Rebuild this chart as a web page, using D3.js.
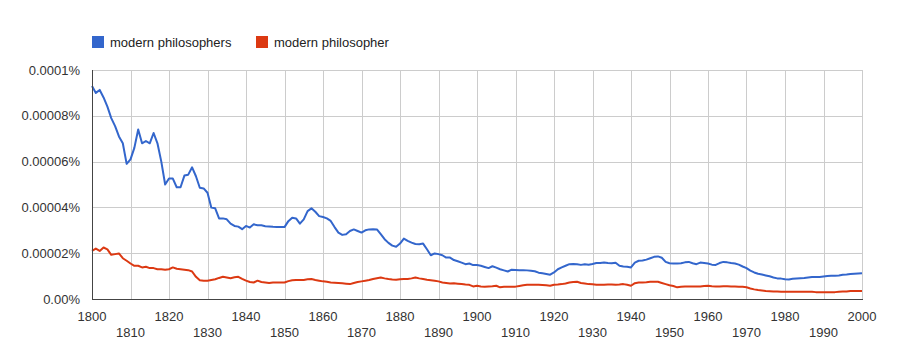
<!DOCTYPE html>
<html><head><meta charset="utf-8">
<script src="https://cdn.jsdelivr.net/npm/d3@7/dist/d3.min.js"></script>
<style>
html,body{margin:0;padding:0;background:#fff;}
svg{display:block;font-family:"Liberation Sans",Arial,sans-serif;}
</style></head>
<body><svg id="chart" width="900" height="360"></svg>
<script>
// values in units of 0.00001 %
const UNIT = 1e-5;
const startYear = 1800;
const seriesNames = ["modern philosophers", "modern philosopher"];
const seriesColors = ["#3366cc", "#dc3912"];
const yTicks = [0, 0.00002, 0.00004, 0.00006, 0.00008, 0.0001];
const yTickLabels = ["0.00%", "0.00002%", "0.00004%", "0.00006%", "0.00008%", "0.0001%"];
const xTicks = [1800,1810,1820,1830,1840,1850,1860,1870,1880,1890,1900,1910,1920,1930,1940,1950,1960,1970,1980,1990,2000];

const philosophers = [
 9.3,9.0,9.13,8.8,8.4,7.9,7.55,7.1,6.8,5.9,
 6.1,6.6,7.4,6.8,6.9,6.8,7.25,6.8,6.0,5.0,
 5.26,5.26,4.88,4.88,5.39,5.43,5.75,5.36,4.86,4.83,
 4.64,3.99,3.96,3.52,3.52,3.48,3.29,3.19,3.16,3.05,
 3.19,3.12,3.26,3.22,3.22,3.18,3.17,3.15,3.14,3.14,
 3.14,3.4,3.55,3.52,3.29,3.48,3.84,3.96,3.81,3.62,
 3.58,3.52,3.41,3.14,2.90,2.80,2.83,2.97,3.04,2.97,
 2.90,3.00,3.04,3.05,3.04,2.83,2.61,2.45,2.33,2.28,
 2.42,2.64,2.54,2.46,2.40,2.39,2.42,2.17,1.91,1.99,
 1.96,1.91,1.81,1.81,1.70,1.65,1.59,1.52,1.55,1.48,
 1.48,1.45,1.40,1.35,1.43,1.37,1.30,1.25,1.20,1.28,
 1.27,1.26,1.26,1.25,1.23,1.21,1.15,1.12,1.09,1.06,
 1.16,1.30,1.38,1.45,1.52,1.53,1.52,1.49,1.52,1.50,
 1.53,1.57,1.57,1.59,1.57,1.56,1.58,1.45,1.42,1.41,
 1.38,1.59,1.67,1.68,1.72,1.78,1.84,1.86,1.80,1.62,
 1.56,1.55,1.55,1.56,1.60,1.62,1.56,1.52,1.59,1.57,
 1.55,1.50,1.49,1.57,1.62,1.60,1.57,1.55,1.50,1.42,
 1.35,1.24,1.16,1.10,1.07,1.03,0.99,0.94,0.90,0.89,
 0.86,0.85,0.88,0.90,0.91,0.92,0.94,0.96,0.96,0.96,
 0.98,1.00,1.01,1.02,1.03,1.06,1.07,1.09,1.10,1.11,
 1.12
];
const philosopher = [
 2.10,2.20,2.10,2.25,2.17,1.93,1.96,1.99,1.78,1.67,
 1.55,1.45,1.45,1.38,1.41,1.35,1.35,1.30,1.30,1.28,
 1.30,1.38,1.32,1.30,1.28,1.26,1.20,0.97,0.82,0.80,
 0.80,0.83,0.86,0.92,0.97,0.94,0.91,0.95,0.97,0.88,
 0.80,0.74,0.72,0.80,0.74,0.72,0.70,0.72,0.72,0.72,
 0.72,0.78,0.82,0.83,0.83,0.83,0.86,0.87,0.83,0.80,
 0.77,0.75,0.72,0.71,0.70,0.69,0.67,0.65,0.70,0.74,
 0.77,0.80,0.83,0.87,0.91,0.94,0.90,0.87,0.85,0.84,
 0.86,0.87,0.87,0.90,0.94,0.90,0.87,0.84,0.82,0.80,
 0.77,0.72,0.70,0.68,0.69,0.67,0.65,0.63,0.62,0.55,
 0.58,0.55,0.54,0.55,0.56,0.58,0.51,0.53,0.54,0.54,
 0.54,0.57,0.60,0.62,0.62,0.62,0.62,0.61,0.60,0.58,
 0.62,0.63,0.65,0.68,0.72,0.74,0.75,0.70,0.68,0.65,
 0.64,0.62,0.62,0.62,0.63,0.63,0.62,0.63,0.65,0.62,
 0.58,0.69,0.72,0.72,0.73,0.75,0.75,0.75,0.70,0.65,
 0.60,0.57,0.51,0.53,0.55,0.55,0.55,0.55,0.55,0.57,
 0.58,0.56,0.55,0.55,0.56,0.56,0.55,0.55,0.54,0.53,
 0.51,0.46,0.42,0.39,0.37,0.35,0.34,0.33,0.33,0.32,
 0.32,0.32,0.32,0.32,0.32,0.32,0.32,0.32,0.30,0.30,
 0.30,0.30,0.30,0.30,0.32,0.33,0.33,0.35,0.35,0.35,
 0.35
];

const seriesValues = [philosophers, philosopher];

const svg = d3.select("#chart");
const pLeft = 92, pRight = 862, pTop = 70, pBottom = 299;

const x = d3.scaleLinear().domain([1800, 2000]).range([pLeft, pRight]);
const y = d3.scaleLinear().domain([0, 0.0001]).range([pBottom, pTop]);

// grid
const g = svg.append("g");
g.selectAll("line.h").data(yTicks.slice(1)).enter().append("line")
  .attr("x1", pLeft).attr("x2", pRight)
  .attr("y1", d => Math.round(y(d)) + 0.5).attr("y2", d => Math.round(y(d)) + 0.5)
  .attr("stroke", "#cccccc").attr("stroke-width", 1);
g.selectAll("line.v").data(xTicks.slice(1)).enter().append("line")
  .attr("x1", d => Math.round(x(d)) + 0.5).attr("x2", d => Math.round(x(d)) + 0.5)
  .attr("y1", pTop).attr("y2", pBottom)
  .attr("stroke", "#cccccc").attr("stroke-width", 1);

// y labels
svg.append("g").selectAll("text").data(yTicks).enter().append("text")
  .attr("x", 80).attr("y", d => y(d) + 4.5)
  .attr("text-anchor", "end").attr("font-size", 13).attr("fill", "#333")
  .text((d, i) => yTickLabels[i]);

// x labels
svg.append("g").selectAll("text").data(xTicks).enter().append("text")
  .attr("x", d => x(d)).attr("y", (d, i) => i % 2 === 0 ? 321 : 337)
  .attr("text-anchor", "middle").attr("font-size", 13).attr("fill", "#333")
  .text(d => d);

// lines
const years = d3.range(startYear, startYear + philosophers.length);
const line = d3.line().x((d, i) => x(years[i])).y(d => y(d * UNIT));
seriesValues.forEach((vals, k) => {
  svg.append("path").datum(vals)
    .attr("d", line).attr("fill", "none")
    .attr("stroke", seriesColors[k]).attr("stroke-width", 2)
    .attr("stroke-linejoin", "round");
});

// axes
svg.append("line").attr("x1", pLeft + 0.5).attr("x2", pLeft + 0.5).attr("y1", pTop).attr("y2", pBottom + 1)
  .attr("stroke", "#444").attr("stroke-width", 1);
svg.append("line").attr("x1", pLeft).attr("x2", pRight + 1).attr("y1", pBottom + 0.5).attr("y2", pBottom + 0.5)
  .attr("stroke", "#444").attr("stroke-width", 1);

// legend
const legendX = [92, 256];
const lg = svg.append("g");
seriesNames.forEach((name, k) => {
  lg.append("rect").attr("x", legendX[k]).attr("y", 36).attr("width", 12).attr("height", 12)
    .attr("fill", seriesColors[k]);
  lg.append("text").attr("x", legendX[k] + 18).attr("y", 46.5)
    .attr("font-size", 13).attr("fill", "#222").text(name);
});
</script>
</body></html>
